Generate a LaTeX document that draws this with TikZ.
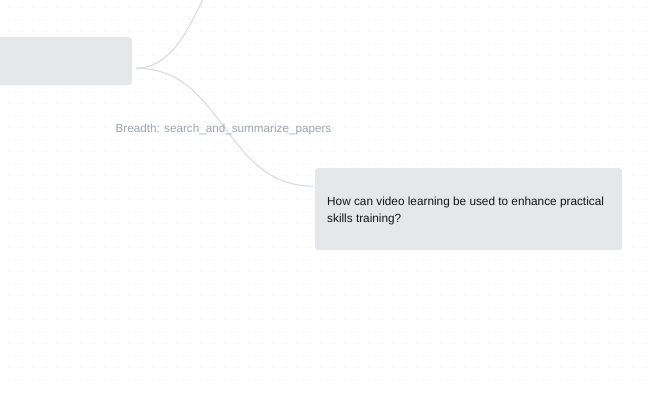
\documentclass[tikz,border=0pt]{standalone}
\usepackage{fontspec}
\setmainfont{Liberation Sans}
\definecolor{boxfill}{HTML}{E5E7EB}
\definecolor{edgec}{HTML}{D9DBDF}
\definecolor{labelc}{HTML}{9CA3AF}
\definecolor{dotc}{HTML}{E3E4E7}
\definecolor{txt}{HTML}{141414}
\tikzset{
  box/.style={fill=boxfill, rounded corners=3pt, draw=none, inner sep=0pt},
  edge/.style={draw=edgec, line width=1.1pt},
  lbl/.style={text=labelc, font=\fontsize{11.7pt}{14pt}\selectfont, inner sep=0pt},
  qtext/.style={text=txt, font=\fontsize{11.8pt}{17pt}\selectfont, align=left, inner sep=0pt}
}
\begin{document}
\begin{tikzpicture}[x=1pt,y=-1pt]
\useasboundingbox (0,0) rectangle (650,408);
\clip (0,0) rectangle (650,408);
% dot grid
\foreach \i in {0,...,53}{
  \foreach \j in {0,...,31}{
    \fill[dotc] ({9.3+12*\i-0.6},{7.3+12*\j-0.6}) rectangle ++(1.2,1.2);
  }
}
% nodes
\node[box, minimum width=142pt, minimum height=48pt, anchor=north east] (root) at (132,37) {};
\node[box, minimum width=307pt, minimum height=82pt, anchor=north west] (q) at (315,168) {};
\node[qtext, anchor=west] (qt) at ([shift={(12pt,-2pt)}]q.west) {How can video learning be used to enhance practical\\skills training?};
\coordinate (s) at ([shift={(4,7)}]root.east);
\coordinate (qin) at ([shift={(-2,-23)}]q.west);
\coordinate (up) at (270,-70);
% edges
\draw[edge] (s) .. controls (203,68) and (203,-70) .. (up);
\draw[edge] (s) .. controls (224,68) and (224,186) .. (qin);
% label
\node[lbl] (lab) at (223.5,129) {Breadth: search\_and\_summarize\_papers};
\end{tikzpicture}
\end{document}
